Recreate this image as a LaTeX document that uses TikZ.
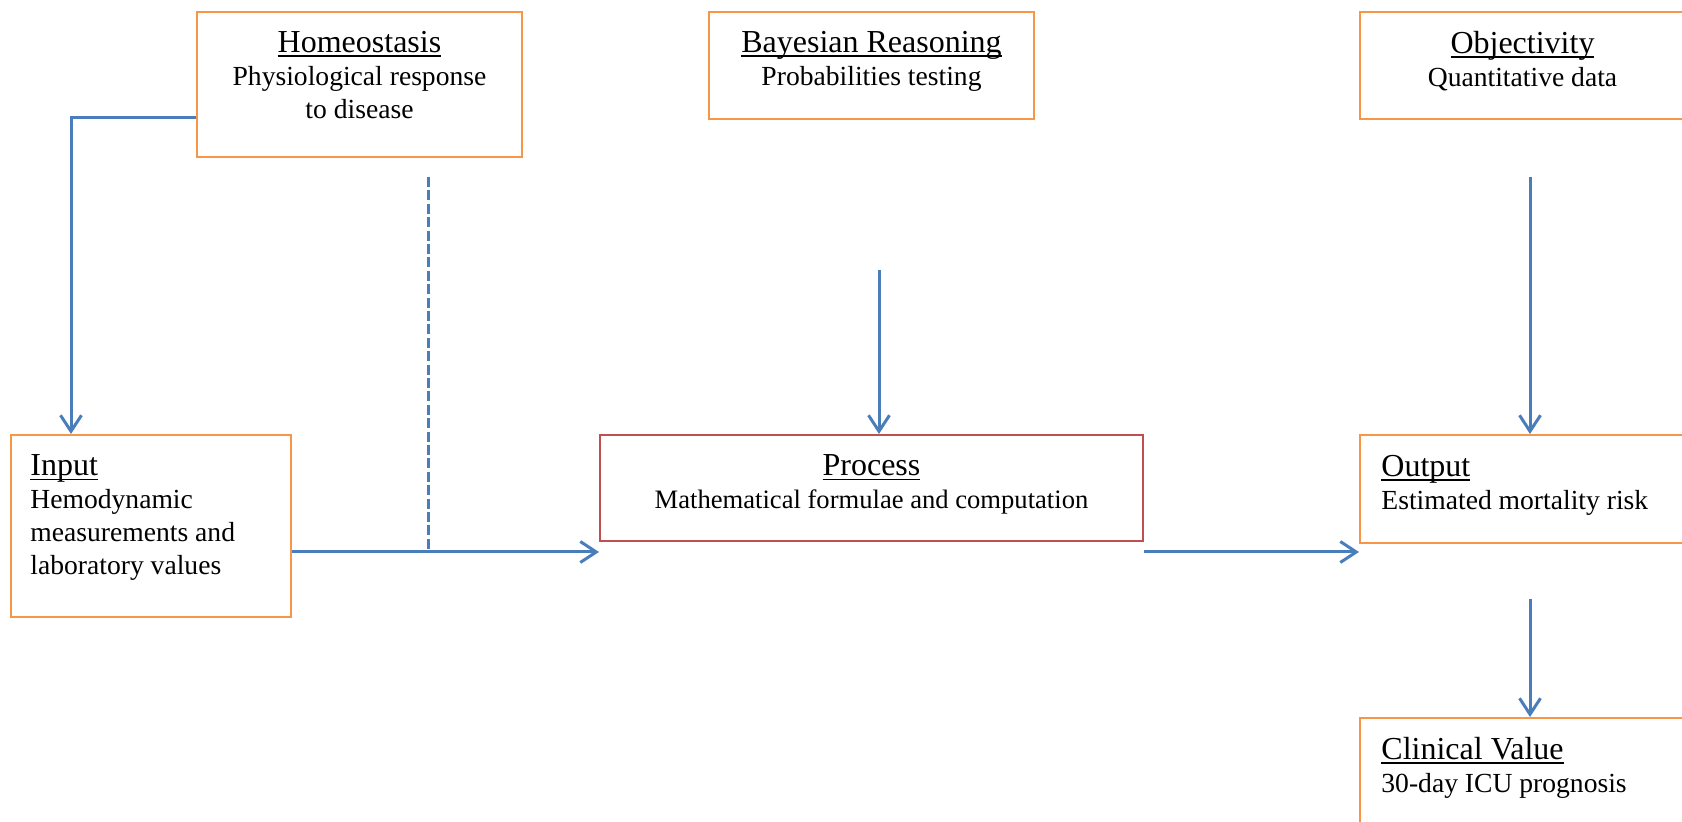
\documentclass[tikz,border=0pt]{standalone}
\usepackage{fontspec}
\setmainfont{Liberation Serif}
\usetikzlibrary{positioning,arrows.meta}
\definecolor{boxorange}{RGB}{247,150,70}
\definecolor{boxred}{RGB}{192,80,77}
\definecolor{flowblue}{RGB}{74,126,187}
\newcommand{\heading}[1]{{\fontsize{16}{16.5}\selectfont
    \setbox0\hbox{#1}\rlap{\rule[-2.2pt]{\wd0}{0.9pt}}\copy0}}

\begin{document}
\begin{tikzpicture}[x=0.5pt, y=-0.5pt,
    box/.style={draw=boxorange, line width=1pt, anchor=north west, inner sep=0pt},
    redbox/.style={box, draw=boxred},
    txt/.style={inner sep=0pt, font=\fontsize{13.8}{16.5}\selectfont},
    flowline/.style={draw=flowblue, line width=1.5pt},
    flow/.style={flowline, -{Straight Barb[length=8pt,width=10.5pt,line width=1.5pt]}}]
        \useasboundingbox (0,0) rectangle (1682,822);
        % boxes
        \node[box, minimum width=162.5pt, minimum height=72.5pt] (homeo) at (196,11) {};
        \node[box, minimum width=162.5pt, minimum height=53.5pt] (bayes) at (708,11) {};
        \node[box, minimum width=162.5pt, minimum height=53.5pt] (objective) at (1359,11) {};
        \node[box, minimum width=140pt, minimum height=91pt] (input) at (10,434) {};
        \node[redbox, minimum width=271.5pt, minimum height=53pt] (process) at (599,434) {};
        \node[box, minimum width=162.5pt, minimum height=54pt] (output) at (1359,434) {};
        \node[box, minimum width=162.5pt, minimum height=56pt] (clinical) at (1359,717) {};
        % texts
        \node[txt, align=center, below=10pt of homeo.north] (homeo-t)
            {\heading{Homeostasis}\\ Physiological response\\ to disease};
        \node[txt, align=center, below=10pt of bayes.north] (bayes-t)
            {\heading{Bayesian Reasoning}\\ Probabilities testing};
        \node[txt, align=center, below=10pt of objective.north] (objective-t)
            {\heading{Objectivity}\\ Quantitative data};
        \node[txt, align=left, below right=10.3pt and 10pt of input.north west] (input-t)
            {\heading{Input}\\ Hemodynamic\\ measurements and\\ laboratory values};
        \node[txt, align=center, below=10.3pt of process.north] (process-t)
            {\heading{Process}\\ {\fontsize{13.3}{16.5}\selectfont Mathematical formulae and computation}};
        \node[txt, align=left, below right=10.3pt and 11pt of output.north west] (output-t)
            {\heading{Output}\\ Estimated mortality risk};
        \node[txt, align=left, below right=10pt and 11pt of clinical.north west] (clinical-t)
            {\heading{Clinical Value}\\ 30-day ICU prognosis};
        % connectors
        \coordinate (bend) at (71,118);
        \coordinate (dashtop) at (428,177);
        \coordinate (join) at (428,552);
        \coordinate (bayes-in) at (879,270);
        \coordinate (objective-in) at (1530,177);
        \coordinate (output-in) at (1530,599);
        \draw[flow] (homeo.west |- bend) -- (bend) -- (input.north -| bend);
        \draw[flowline, dash pattern=on 5pt off 1.7pt] (dashtop) -- (join);
        \draw[flow] (input.east |- join) -- (process.west |- join);
        \draw[flow] (bayes-in) -- (process.north -| bayes-in);
        \draw[flow] (process.east |- join) -- (output.west |- join);
        \draw[flow] (objective-in) -- (output.north -| objective-in);
        \draw[flow] (output-in) -- (clinical.north -| output-in);
\end{tikzpicture}
\end{document}
